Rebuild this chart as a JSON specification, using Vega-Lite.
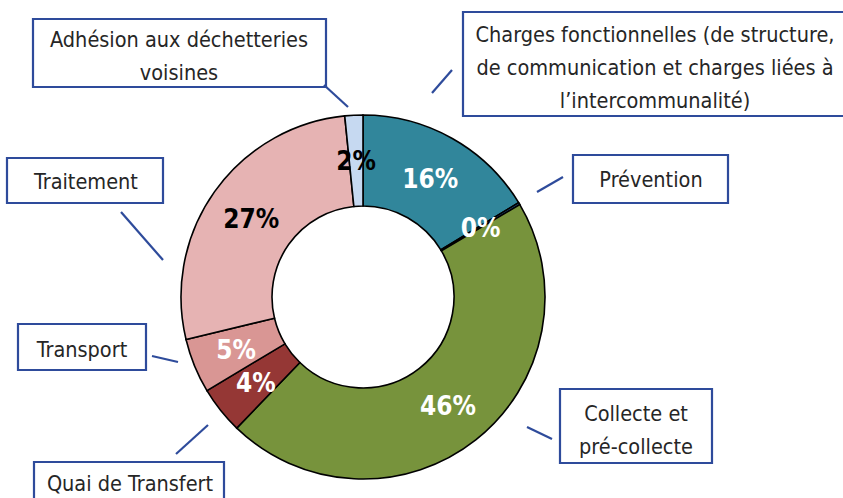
{
  "$schema": "https://vega.github.io/schema/vega-lite/v6.json",
  "width": 843,
  "height": 498,
  "autosize": "none",
  "padding": 0,
  "background": "white",
  "config": {"view": {"stroke": null}},
  "datasets": {
    "slices": [
      {"idx": 1, "cat": "Charges fonctionnelles", "share": 0.1633},
      {"idx": 2, "cat": "Prévention", "share": 0.002},
      {"idx": 3, "cat": "Collecte et pré-collecte", "share": 0.4567},
      {"idx": 4, "cat": "Quai de Transfert", "share": 0.042},
      {"idx": 5, "cat": "Transport", "share": 0.0485},
      {"idx": 6, "cat": "Traitement", "share": 0.2715},
      {"idx": 7, "cat": "Adhésion aux déchetteries voisines", "share": 0.016}
    ],
    "callouts": [
      {"cat": "Adhésion aux déchetteries voisines", "lines": ["Adhésion aux déchetteries", "voisines"], "bx1": 33, "bx2": 326, "by1": 19, "by2": 87, "tx": 179, "ty": 41, "lx1": 324, "ly1": 85, "lx2": 348, "ly2": 107},
      {"cat": "Charges fonctionnelles", "lines": ["Charges fonctionnelles (de structure,", "de communication et charges liées à", "l’intercommunalité)"], "bx1": 463, "bx2": 850, "by1": 12, "by2": 116, "tx": 655, "ty": 36, "lx1": 432, "ly1": 93, "lx2": 452, "ly2": 70},
      {"cat": "Prévention", "lines": ["Prévention"], "bx1": 573, "bx2": 728, "by1": 155, "by2": 203, "tx": 651, "ty": 181, "lx1": 537, "ly1": 192, "lx2": 563, "ly2": 177},
      {"cat": "Traitement", "lines": ["Traitement"], "bx1": 7, "bx2": 163, "by1": 158, "by2": 203, "tx": 86, "ty": 183, "lx1": 121, "ly1": 212, "lx2": 163, "ly2": 260},
      {"cat": "Collecte et pré-collecte", "lines": ["Collecte et", "pré-collecte"], "bx1": 560, "bx2": 712, "by1": 389, "by2": 463, "tx": 636, "ty": 415, "lx1": 527, "ly1": 427, "lx2": 552, "ly2": 439},
      {"cat": "Transport", "lines": ["Transport"], "bx1": 18, "bx2": 146, "by1": 324, "by2": 370, "tx": 82, "ty": 351, "lx1": 152, "ly1": 356, "lx2": 178, "ly2": 362},
      {"cat": "Quai de Transfert", "lines": ["Quai de Transfert"], "bx1": 34, "bx2": 224, "by1": 462, "by2": 515, "tx": 130, "ty": 485, "lx1": 176, "ly1": 454, "lx2": 208, "ly2": 425}
    ]
  },
  "layer": [
    {
      "data": {"name": "slices"},
      "mark": {"type": "arc", "outerRadius": 182, "innerRadius": 91, "stroke": "#000000", "strokeWidth": 1.6},
      "encoding": {
        "theta": {"field": "share", "type": "quantitative", "stack": true},
        "order": {"field": "idx", "type": "quantitative"},
        "color": {
          "field": "cat", "type": "nominal", "legend": null,
          "scale": {
            "domain": ["Charges fonctionnelles", "Prévention", "Collecte et pré-collecte", "Quai de Transfert", "Transport", "Traitement", "Adhésion aux déchetteries voisines"],
            "range": ["#31869B", "#1F497D", "#77933C", "#953735", "#D99694", "#E6B3B3", "#C6D9F1"]
          }
        },
        "x": {"datum": 363, "type": "quantitative", "scale": {"domain": [0, 843], "nice": false, "zero": false}, "axis": null},
        "y": {"datum": 297, "type": "quantitative", "scale": {"domain": [0, 498], "nice": false, "zero": false, "reverse": true}, "axis": null}
      }
    },
    {
      "data": {"name": "slices"},
      "mark": {"type": "text", "radius": 137, "dy": 2, "font": "DejaVu Sans Condensed, sans-serif", "fontWeight": "bold", "fontSize": 26, "align": "center", "baseline": "middle"},
      "encoding": {
        "theta": {"field": "share", "type": "quantitative", "stack": true},
        "order": {"field": "idx", "type": "quantitative"},
        "text": {"field": "share", "type": "quantitative", "format": ".0%"},
        "color": {"condition": {"test": "datum.cat === 'Traitement' || datum.cat === 'Adhésion aux déchetteries voisines'", "value": "#000000"}, "value": "#ffffff"},
        "x": {"datum": 363, "type": "quantitative"},
        "y": {"datum": 297, "type": "quantitative"}
      }
    },
    {
      "data": {"name": "callouts"},
      "mark": {"type": "rect", "fill": "#ffffff", "stroke": "#2E4B9B", "strokeWidth": 2.2},
      "encoding": {
        "x": {"field": "bx1", "type": "quantitative"},
        "x2": {"field": "bx2"},
        "y": {"field": "by1", "type": "quantitative"},
        "y2": {"field": "by2"}
      }
    },
    {
      "data": {"name": "callouts"},
      "mark": {"type": "rule", "stroke": "#2E4B9B", "strokeWidth": 2.2},
      "encoding": {
        "x": {"field": "lx1", "type": "quantitative"},
        "x2": {"field": "lx2"},
        "y": {"field": "ly1", "type": "quantitative"},
        "y2": {"field": "ly2"}
      }
    },
    {
      "data": {"name": "callouts"},
      "mark": {"type": "text", "font": "DejaVu Sans Condensed, sans-serif", "fontSize": 21.5, "lineHeight": 33, "align": "center", "baseline": "middle", "color": "#262626"},
      "encoding": {
        "text": {"field": "lines"},
        "x": {"field": "tx", "type": "quantitative"},
        "y": {"field": "ty", "type": "quantitative"}
      }
    }
  ]
}
